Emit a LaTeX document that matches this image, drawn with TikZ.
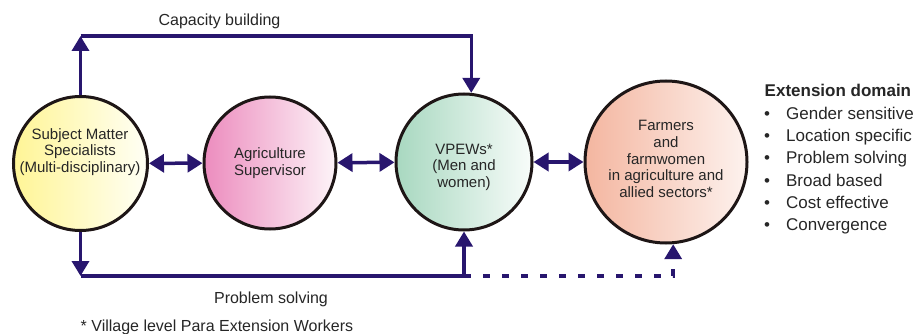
\documentclass[tikz,border=0pt]{standalone}
\usepackage{fontspec}
\setmainfont{Liberation Sans}
\usetikzlibrary{arrows.meta}
\definecolor{arrowc}{RGB}{40,22,110}
\definecolor{ringc}{RGB}{30,22,22}
\definecolor{smsL}{RGB}{255,245,150}
\definecolor{smsR}{RGB}{255,255,245}
\definecolor{supL}{RGB}{236,140,190}
\definecolor{supR}{RGB}{253,244,248}
\definecolor{vpL}{RGB}{168,216,192}
\definecolor{vpR}{RGB}{248,252,250}
\definecolor{faL}{RGB}{244,182,160}
\definecolor{faR}{RGB}{253,242,238}
\tikzset{
  ring/.style={circle, draw=ringc, line width=3pt, inner sep=0pt, shading=axis, shading angle=90},
  ctext/.style={align=center, inner sep=0pt, font=\fontsize{15}{16.6}\selectfont, text=black!85},
  lab/.style={inner sep=0pt, font=\fontsize{16}{19}\selectfont, text=black!85},
  conn/.style={draw=arrowc, line width=3.5pt},
  tip/.style={-{Triangle[length=15pt,width=17pt]}},
  dtip/.style={{Triangle[length=15pt,width=18pt]}-{Triangle[length=15pt,width=18pt]}},
  dotline/.style={dash pattern=on 7pt off 12pt},
  item/.style={anchor=base west, inner sep=0pt, font=\fontsize{17}{20}\selectfont, text=black!85},
}
\begin{document}
\begin{tikzpicture}[x=1pt,y=-1pt]
\useasboundingbox (0,0) rectangle (921,334);
% circles
\node[ring, minimum size=134pt, left color=smsL, right color=smsR] (sms) at (80.5,163.5) {};
\node[ring, minimum size=132pt, left color=supL, right color=supR] (sup) at (270,163) {};
\node[ring, minimum size=136pt, left color=vpL, right color=vpR] (vpew) at (464,162) {};
\node[ring, minimum size=162pt, left color=faL, right color=faR] (farm) at (666,162) {};
% circle texts
\node[ctext] (smsT) at (80,152) {Subject Matter\\Specialists\\(Multi-disciplinary)};
\node[ctext] (supT) at (270,163) {Agriculture\\Supervisor};
\node[ctext] (vpewT) at (464,167) {VPEWs*\\(Men and\\women)};
\node[ctext] (farmT) at (666,159) {Farmers\\and\\farmwomen\\in agriculture and\\allied sectors*};
% helper coordinates
\coordinate (ty) at (0,36);
\coordinate (by) at (0,276);
% double arrows
\draw[conn, dtip] (sms) -- (sup);
\draw[conn, dtip] (sup) -- (vpew);
\draw[conn, dtip] (vpew) -- (farm);
% capacity building loop
\draw[conn, tip] (sms.north) -- (sms.north |- ty);
\draw[conn, tip, line join=miter] (sms.north |- ty) -- (vpew.84 |- ty) -- (vpew.84);
% problem solving loop
\draw[conn, tip] (sms.south) -- (sms.south |- by);
\draw[conn] (sms.south |- by) -- (vpew.south |- by);
\draw[conn, tip] (vpew.south |- by) -- (vpew.south);
\draw[conn, dotline, tip] (vpew.south |- by) -- (farm.-85 |- by) -- (farm.-85);
% labels
\node[lab, anchor=base] (capL) at (219.5,26) {Capacity building};
\node[lab, anchor=base] (probL) at (271,303) {Problem solving};
\node[lab, anchor=base west] (foot) at (80.5,331.5) {* Village level Para Extension Workers};
% extension domain
\node[item, font=\fontsize{17}{20}\selectfont\bfseries] (edh) at (764.5,96.5) {Extension domain};
\node[item] (e1) at (764,120) {\textbullet\hspace{16pt}Gender sensitive};
\node[item] (e2) at (764,142) {\textbullet\hspace{16pt}Location specific};
\node[item] (e3) at (764,164) {\textbullet\hspace{16pt}Problem solving};
\node[item] (e4) at (764,186) {\textbullet\hspace{16pt}Broad based};
\node[item] (e5) at (764,208) {\textbullet\hspace{16pt}Cost effective};
\node[item] (e6) at (764,230) {\textbullet\hspace{16pt}Convergence};
\end{tikzpicture}
\end{document}
